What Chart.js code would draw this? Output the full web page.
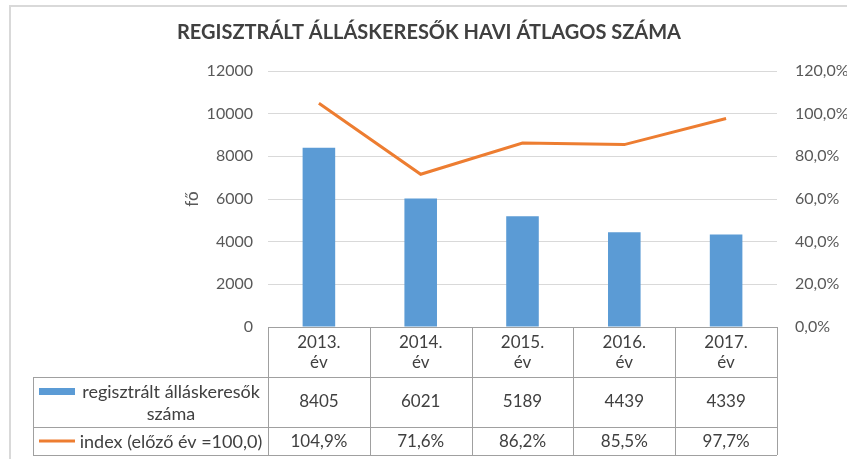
<!DOCTYPE html>
<html>
<head>
<meta charset="utf-8">
<script src="https://cdn.jsdelivr.net/npm/chart.js@4"></script>
<style>
  html, body { margin: 0; padding: 0; background: #fff; }
  #wrap { width: 847px; height: 459px; position: relative; }
</style>
</head>
<body>
<div id="wrap"><canvas id="chart" width="847" height="459"></canvas></div>
<script>
// adatok
const evek = ['2013.', '2014.', '2015.', '2016.', '2017.'];
const allaskeresok = [8405, 6021, 5189, 4439, 4339];
const index = [104.9, 71.6, 86.2, 85.5, 97.7];
const balTengely = [0, 2000, 4000, 6000, 8000, 10000, 12000];
const jobbTengely = [0, 20, 40, 60, 80, 100, 120];

const cimSzoveg = 'REGISZTRÁLT ÁLLÁSKERESŐK HAVI ÁTLAGOS SZÁMA';
const sorCimek = ['regisztrált álláskeresők|száma', 'index (előző év =100,0)'];

const betu = 'Lato, "Open Sans", sans-serif';
const kek = '#5B9BD5';
const narancs = '#ED7D31';

function szazalek(v) {
    return v.toFixed(1).replace('.', ',') + '%';
}

// keret + adattábla rajzolása
const tablaPlugin = {
    id: 'tabla',
    beforeDraw(chart) {
        const ctx = chart.ctx;
        ctx.save();
        ctx.fillStyle = '#fff';
        ctx.fillRect(0, 0, chart.width, chart.height);
        ctx.strokeStyle = '#d9d9d9';
        ctx.lineWidth = 2;
        ctx.beginPath();
        ctx.moveTo(10, chart.height);
        ctx.lineTo(10, 6);
        ctx.lineTo(chart.width, 6);
        ctx.stroke();
        ctx.restore();
    },
    afterDraw(chart) {
        const ctx = chart.ctx;
        const area = chart.chartArea;
        const x = chart.scales.x;
        const oszlop = (area.right - area.left) / evek.length;
        const bal = 33;
        const y0 = area.bottom, y1 = 377, y2 = 427, y3 = 455;

        ctx.save();
        ctx.strokeStyle = '#a0a0a0';
        ctx.lineWidth = 1;
        ctx.beginPath();
        ctx.moveTo(area.left, y0 + 0.5);
        ctx.lineTo(area.right, y0 + 0.5);
        [y1, y2, y3].forEach(y => {
            ctx.moveTo(bal, y + 0.5);
            ctx.lineTo(area.right, y + 0.5);
        });
        ctx.moveTo(bal + 0.5, y1);
        ctx.lineTo(bal + 0.5, y3);
        for (let i = 0; i <= evek.length; i++) {
            const xx = Math.round(area.left + i * oszlop) + 0.5;
            ctx.moveTo(xx, y0);
            ctx.lineTo(xx, y3);
        }
        ctx.stroke();

        ctx.fillStyle = '#404040';
        ctx.font = '17px ' + betu;
        ctx.textAlign = 'center';
        ctx.textBaseline = 'middle';
        evek.forEach((ev, i) => {
            const cx = x.getPixelForValue(i);
            ctx.fillText(ev, cx, 343);
            ctx.fillText('év', cx, 363);
            ctx.fillText(String(allaskeresok[i]), cx, 402);
            ctx.fillText(szazalek(index[i]), cx, 442);
        });

        // jelmagyarázat
        ctx.fillStyle = kek;
        ctx.fillRect(39, 388, 36, 7);
        ctx.strokeStyle = narancs;
        ctx.lineWidth = 3;
        ctx.beginPath();
        ctx.moveTo(39, 441);
        ctx.lineTo(75, 441);
        ctx.stroke();

        ctx.fillStyle = '#404040';
        ctx.font = '18px ' + betu;
        const sor1 = sorCimek[0].split('|');
        ctx.fillText(sor1[0], 171, 392);
        ctx.fillText(sor1[1], 171, 414);
        ctx.fillText(sorCimek[1], 171, 442);
        ctx.restore();
    }
};

new Chart(document.getElementById('chart'), {
    data: {
        labels: evek,
        datasets: [
            {
                type: 'line',
                label: sorCimek[1],
                data: index,
                yAxisID: 'y2',
                borderColor: narancs,
                borderWidth: 3,
                pointRadius: 0,
                tension: 0,
                order: 0
            },
            {
                type: 'bar',
                label: sorCimek[0].replace('|', ' '),
                data: allaskeresok,
                yAxisID: 'y',
                backgroundColor: kek,
                categoryPercentage: 1,
                barPercentage: 0.32,
                order: 1
            }
        ]
    },
    options: {
        responsive: false,
        animation: false,
        events: [],
        layout: { padding: { left: 11, right: 0, top: 0, bottom: 132 } },
        plugins: {
            legend: { display: false },
            tooltip: { enabled: false },
            title: {
                display: true,
                text: cimSzoveg,
                color: '#404040',
                font: { family: betu, size: 20, weight: 'bold' },
                padding: { top: 21, bottom: 26 }
            }
        },
        scales: {
            x: { display: false },
            y: {
                position: 'left',
                min: balTengely[0],
                max: balTengely[balTengely.length - 1],
                afterBuildTicks: s => { s.ticks = balTengely.map(v => ({ value: v })); },
                afterFit: s => { s.width = 257; },
                ticks: {
                    padding: 15,
                    color: '#595959',
                    font: { family: betu, size: 16 },
                    callback: v => String(v)
                },
                grid: { color: '#d9d9d9', drawTicks: false },
                border: { display: false },
                title: {
                    display: true,
                    text: 'fő',
                    color: '#595959',
                    font: { family: betu, size: 17 },
                    padding: { top: 171, bottom: 0 }
                }
            },
            y2: {
                position: 'right',
                min: jobbTengely[0],
                max: jobbTengely[jobbTengely.length - 1],
                afterBuildTicks: s => { s.ticks = jobbTengely.map(v => ({ value: v })); },
                afterFit: s => { s.width = 70; },
                ticks: {
                    padding: 18,
                    color: '#595959',
                    font: { family: betu, size: 16 },
                    callback: v => szazalek(v)
                },
                grid: { display: false, drawTicks: false },
                border: { display: false }
            }
        }
    },
    plugins: [tablaPlugin]
});
</script>
</body>
</html>
